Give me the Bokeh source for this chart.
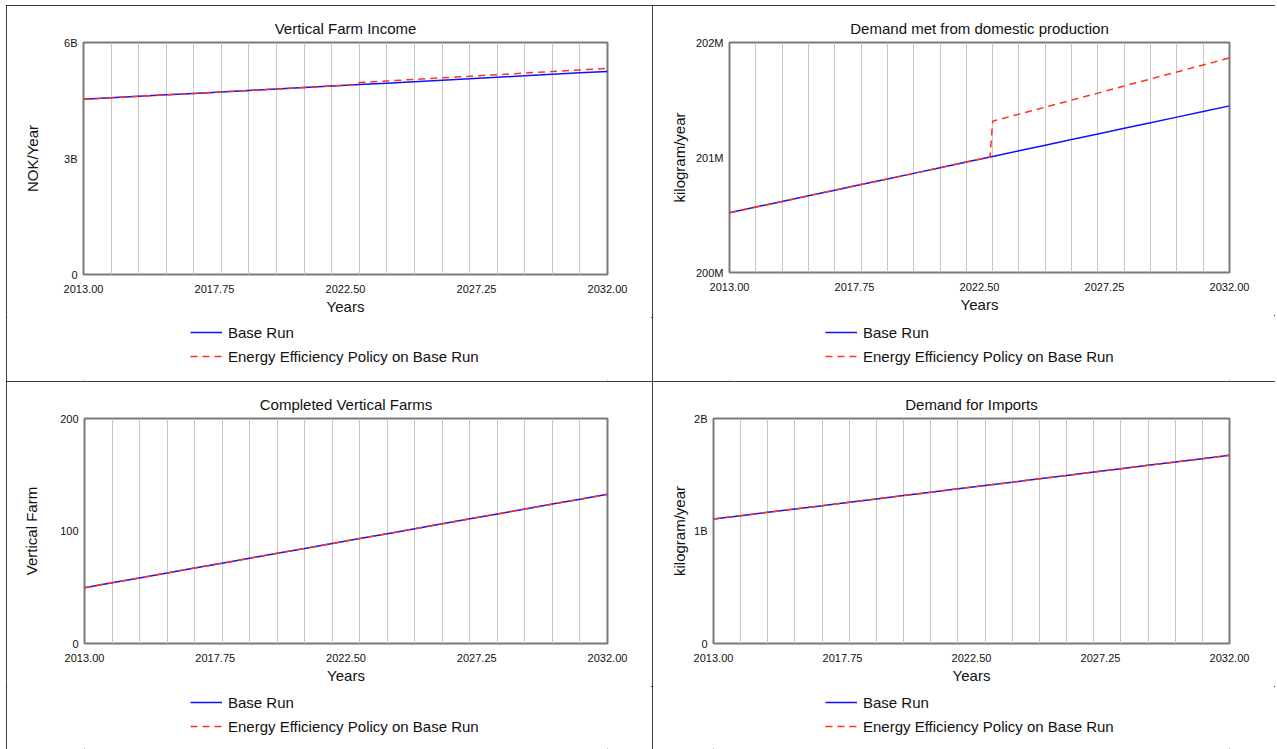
from bokeh.plotting import figure
from bokeh.models import (Range1d, FixedTicker, PrintfTickFormatter, CustomJSTickFormatter,
                          Legend, LegendItem, Spacer)
from bokeh.layouts import row, column
from bokeh.embed import file_html
from bokeh.resources import INLINE

# ---------------- data ----------------
years = [2013, 2014, 2015, 2016, 2017, 2018, 2019, 2020, 2021, 2022,
         2023, 2024, 2025, 2026, 2027, 2028, 2029, 2030, 2031, 2032]
# policy runs include a point just before the 2023 policy step
policy_years = [2013, 2014, 2015, 2016, 2017, 2018, 2019, 2020, 2021, 2022, 2022.9,
                2023, 2024, 2025, 2026, 2027, 2028, 2029, 2030, 2031, 2032]
x_tick_values = [2013.0, 2017.75, 2022.5, 2027.25, 2032.0]
series_labels = ["Base Run", "Energy Efficiency Policy on Base Run"]

# Vertical Farm Income (billion NOK/Year)
income_base = [4.532, 4.570, 4.608, 4.646, 4.684, 4.722, 4.760, 4.798, 4.836, 4.874,
               4.912, 4.949, 4.987, 5.025, 5.063, 5.101, 5.139, 5.177, 5.215, 5.253]
income_policy = [4.532, 4.570, 4.608, 4.646, 4.684, 4.722, 4.760, 4.798, 4.836, 4.874, 4.908,
                 4.965, 5.006, 5.046, 5.087, 5.127, 5.168, 5.209, 5.249, 5.290, 5.330]

# Demand met from domestic production (million kilogram/year)
domestic_base = [200.520, 200.569, 200.618, 200.667, 200.716, 200.765, 200.813, 200.862, 200.911, 200.960,
                 201.009, 201.058, 201.107, 201.156, 201.205, 201.254, 201.302, 201.351, 201.400, 201.449]
domestic_policy = [200.520, 200.569, 200.618, 200.667, 200.716, 200.765, 200.813, 200.862, 200.911, 200.960,
                   201.004, 201.316, 201.377, 201.438, 201.499, 201.560, 201.622, 201.683, 201.744,
                   201.805, 201.866]

# Completed Vertical Farms
farms_base = [49.6, 54.0, 58.3, 62.7, 67.1, 71.4, 75.8, 80.2, 84.5, 88.9,
              93.3, 97.6, 102.0, 106.4, 110.8, 115.1, 119.5, 123.9, 128.2, 132.6]
farms_policy = [49.6, 54.0, 58.3, 62.7, 67.1, 71.4, 75.8, 80.2, 84.5, 88.9,
                93.3, 97.6, 102.0, 106.4, 110.8, 115.1, 119.5, 123.9, 128.2, 132.6]

# Demand for Imports (billion kilogram/year)
imports_base = [1.106, 1.136, 1.166, 1.196, 1.225, 1.255, 1.285, 1.315, 1.345, 1.375,
                1.405, 1.434, 1.464, 1.494, 1.524, 1.554, 1.584, 1.613, 1.643, 1.673]
imports_policy = [1.106, 1.136, 1.166, 1.196, 1.225, 1.255, 1.285, 1.315, 1.345, 1.375,
                  1.405, 1.434, 1.464, 1.494, 1.524, 1.554, 1.584, 1.613, 1.643, 1.673]

FONT = "Liberation Sans"
BLUE = "#1010ff"
RED = "#ff3322"
BASE_STYLE = dict(line_color=BLUE, line_width=1.5)
POLICY_STYLE = dict(line_color=RED, line_width=1.5, line_dash="7 5")


def make_panel(title, ylabel, xb, yb, xp, yp, yrange, yticks, yfmt,
               width, chart_h, legend_h, left, right, top, bottom, ylab_standoff,
               leg_x, leg_y):
    p = figure(width=width, height=chart_h, output_backend="svg", toolbar_location=None,
               x_range=Range1d(2013, 2032), y_range=Range1d(*yrange),
               min_border_left=left, min_border_right=right,
               min_border_top=top, min_border_bottom=bottom,
               background_fill_color="white", border_fill_color="white")
    p.title.text = title
    p.title.align = "center"
    p.title.text_font = FONT
    p.title.text_font_size = "15px"
    p.title.text_font_style = "normal"
    p.title.text_color = "#111111"
    p.title.standoff = 11

    p.outline_line_color = "#7a7a7a"
    p.outline_line_width = 2

    p.xaxis.ticker = FixedTicker(ticks=x_tick_values)
    p.xaxis.formatter = PrintfTickFormatter(format="%.2f")
    p.xaxis.axis_label = "Years"
    p.yaxis.ticker = FixedTicker(ticks=yticks)
    p.yaxis.formatter = CustomJSTickFormatter(code=yfmt)
    p.yaxis.axis_label = ylabel
    for ax in (p.xaxis[0], p.yaxis[0]):
        ax.axis_line_color = None
        ax.major_tick_line_color = None
        ax.minor_tick_line_color = None
        ax.major_tick_out = 0
        ax.major_tick_in = 0
        ax.major_label_text_font = FONT
        ax.major_label_text_font_size = "11px"
        ax.major_label_text_color = "#111111"
        ax.axis_label_text_font = FONT
        ax.axis_label_text_font_size = "15px"
        ax.axis_label_text_font_style = "normal"
        ax.axis_label_text_color = "#111111"
    p.xaxis.major_label_standoff = 10
    p.xaxis.axis_label_standoff = 2
    p.yaxis.major_label_standoff = 6
    p.yaxis.axis_label_standoff = ylab_standoff

    p.xgrid.ticker = FixedTicker(ticks=years)
    p.xgrid.grid_line_color = "#c8c8c8"
    p.xgrid.grid_line_width = 1
    p.ygrid.grid_line_color = None

    p.line(xb, yb, **BASE_STYLE)
    p.line(xp, yp, **POLICY_STYLE)

    # legend strip below the chart (same series styles; its sample renderers lie outside its view)
    lg = figure(width=width, height=legend_h, output_backend="svg", toolbar_location=None,
                x_axis_type=None, y_axis_type=None, min_border=0,
                x_range=Range1d(0, 1), y_range=Range1d(0, 1),
                background_fill_color="white", border_fill_color="white")
    lg.outline_line_color = None
    lg.grid.grid_line_color = None
    k1 = lg.line([-2, -1], [-2, -1], **BASE_STYLE)
    k2 = lg.line([-2, -1], [-2, -1], **POLICY_STYLE)
    legend = Legend(items=[LegendItem(label=series_labels[0], renderers=[k1]),
                           LegendItem(label=series_labels[1], renderers=[k2])],
                    location=(leg_x, leg_y), orientation="vertical",
                    border_line_color=None, background_fill_alpha=0,
                    padding=0, margin=0, spacing=4, glyph_width=32, glyph_height=20,
                    label_height=20, label_standoff=6,
                    label_text_font=FONT, label_text_font_size="15px",
                    label_text_color="#111111")
    lg.add_layout(legend)
    return column(p, lg, spacing=0,
                  styles={"outline": "1px solid #000", "outline-offset": "-1px"})


p1 = make_panel("Vertical Farm Income", "NOK/Year", years, income_base, policy_years, income_policy,
                (0, 6), [0, 3, 6], "return tick == 0 ? '0' : tick + 'B';",
                646, 312, 64, 77, 45, 37, 42, 20, 107, 15)
p2 = make_panel("Demand met from domestic production", "kilogram/year", years, domestic_base,
                policy_years, domestic_policy,
                (200, 202), [200, 201, 202], "return tick + 'M';",
                623, 310, 66, 77, 46, 37, 42, 5, 96, 15)
p3 = make_panel("Completed Vertical Farms", "Vertical Farm", years, farms_base, years, farms_policy,
                (0, 200), [0, 100, 200], "return tick.toString();",
                646, 305, 63, 78, 45, 37, 42, 17, 106, 13)
p4 = make_panel("Demand for Imports", "kilogram/year", years, imports_base, years, imports_policy,
                (0, 2), [0, 1, 2], "return tick == 0 ? '0' : tick + 'B';",
                623, 305, 63, 61, 46, 37, 42, 3, 112, 13)

layout = column(Spacer(height=5),
                row(Spacer(width=6), p1, p2, spacing=0),
                row(Spacer(width=6), p3, p4, spacing=0), spacing=0)
open("out.html", "w").write(file_html(layout, INLINE))
